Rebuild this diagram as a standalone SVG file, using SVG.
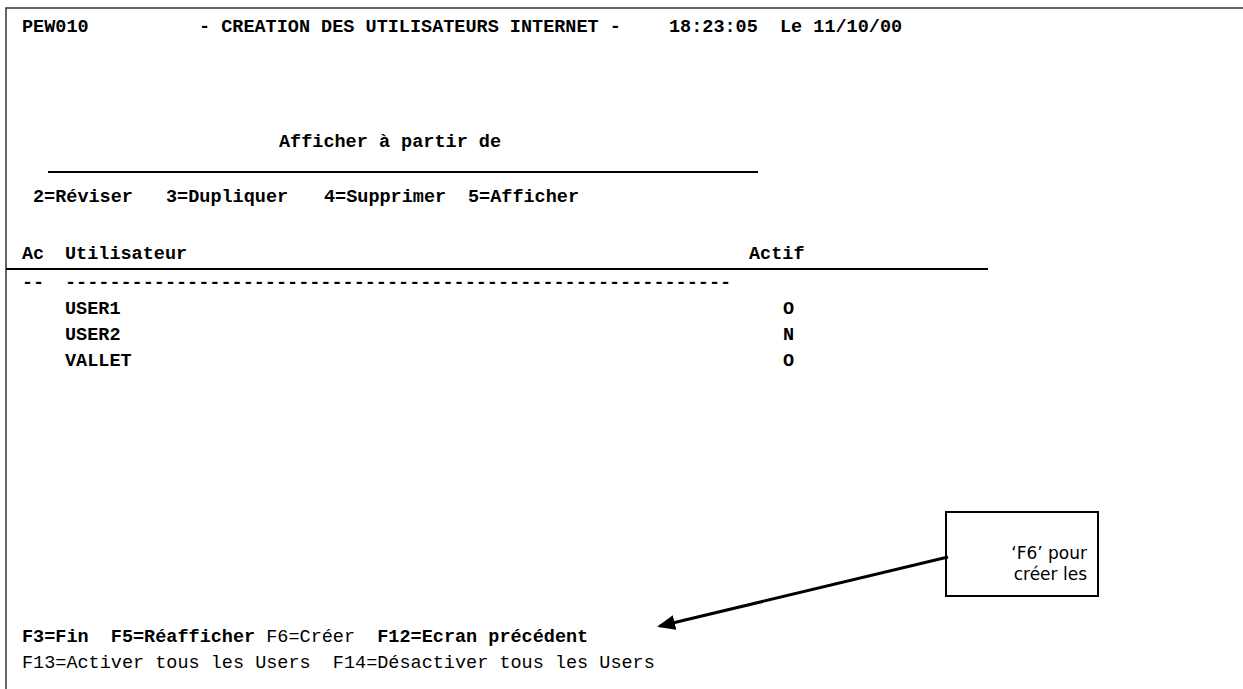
<svg xmlns="http://www.w3.org/2000/svg" width="1243" height="689" viewBox="0 0 1243 689">
<style>
.m{font-family:"Liberation Mono","Courier New",monospace;font-size:18.5px;fill:#000;white-space:pre}
.b{font-weight:bold}
.s{font-family:"DejaVu Sans",Verdana,sans-serif;font-size:17px;fill:#000}
.ln{stroke:#000;stroke-width:2;fill:none}
</style>
<defs>
<marker id="ah" markerWidth="6" markerHeight="5" refX="5" refY="2.5" orient="auto" markerUnits="strokeWidth">
<path d="M0,0 L6,2.5 L0,5 Z" fill="#000"/>
</marker>
</defs>
<rect width="1243" height="689" fill="#fff"/>
<path d="M6,689 V8 H1243" stroke="#333" stroke-width="1.5" fill="none"/>
<g id="screen">
<text class="m b" x="22" y="32">PEW010</text>
<text class="m b" x="199" y="32">- CREATION DES UTILISATEURS INTERNET -</text>
<text class="m b" x="669" y="32">18:23:05</text>
<text class="m b" x="780" y="32">Le 11/10/00</text>
<text class="m b" x="279" y="147">Afficher à partir de</text>
<line class="ln" x1="48" y1="172" x2="758" y2="172"/>
<text class="m b" x="33" y="202">2=Réviser</text>
<text class="m b" x="166" y="202">3=Dupliquer</text>
<text class="m b" x="324" y="202">4=Supprimer</text>
<text class="m b" x="468" y="202">5=Afficher</text>
<text class="m b" x="22" y="259">Ac</text>
<text class="m b" x="65" y="259">Utilisateur</text>
<text class="m b" x="749" y="259">Actif</text>
<line class="ln" x1="6" y1="269" x2="988" y2="269"/>
<text class="m b" x="22" y="288">--</text>
<text class="m b" x="65" y="288">------------------------------------------------------------</text>
<text class="m b" x="65" y="314">USER1</text>
<text class="m b" x="783" y="314">O</text>
<text class="m b" x="65" y="340">USER2</text>
<text class="m b" x="783" y="340">N</text>
<text class="m b" x="65" y="366">VALLET</text>
<text class="m b" x="783" y="366">O</text>
<text class="m" x="22" y="642"><tspan class="b">F3=Fin  F5=Réafficher</tspan> F6=Créer  <tspan class="b">F12=Ecran précédent</tspan></text>
<text class="m" x="22" y="668">F13=Activer tous les Users  F14=Désactiver tous les Users</text>
</g>
<g id="note">
<rect x="946" y="512" width="152" height="84" fill="#fff" stroke="#000" stroke-width="2"/>
<text class="s" x="1087" y="559" text-anchor="end">‘F6’ pour</text>
<text class="s" x="1087" y="580" text-anchor="end">créer les</text>
</g>
<g id="connectors">
<line x1="948" y1="557" x2="660" y2="626" stroke="#000" stroke-width="3" marker-end="url(#ah)"/>
</g>
</svg>
